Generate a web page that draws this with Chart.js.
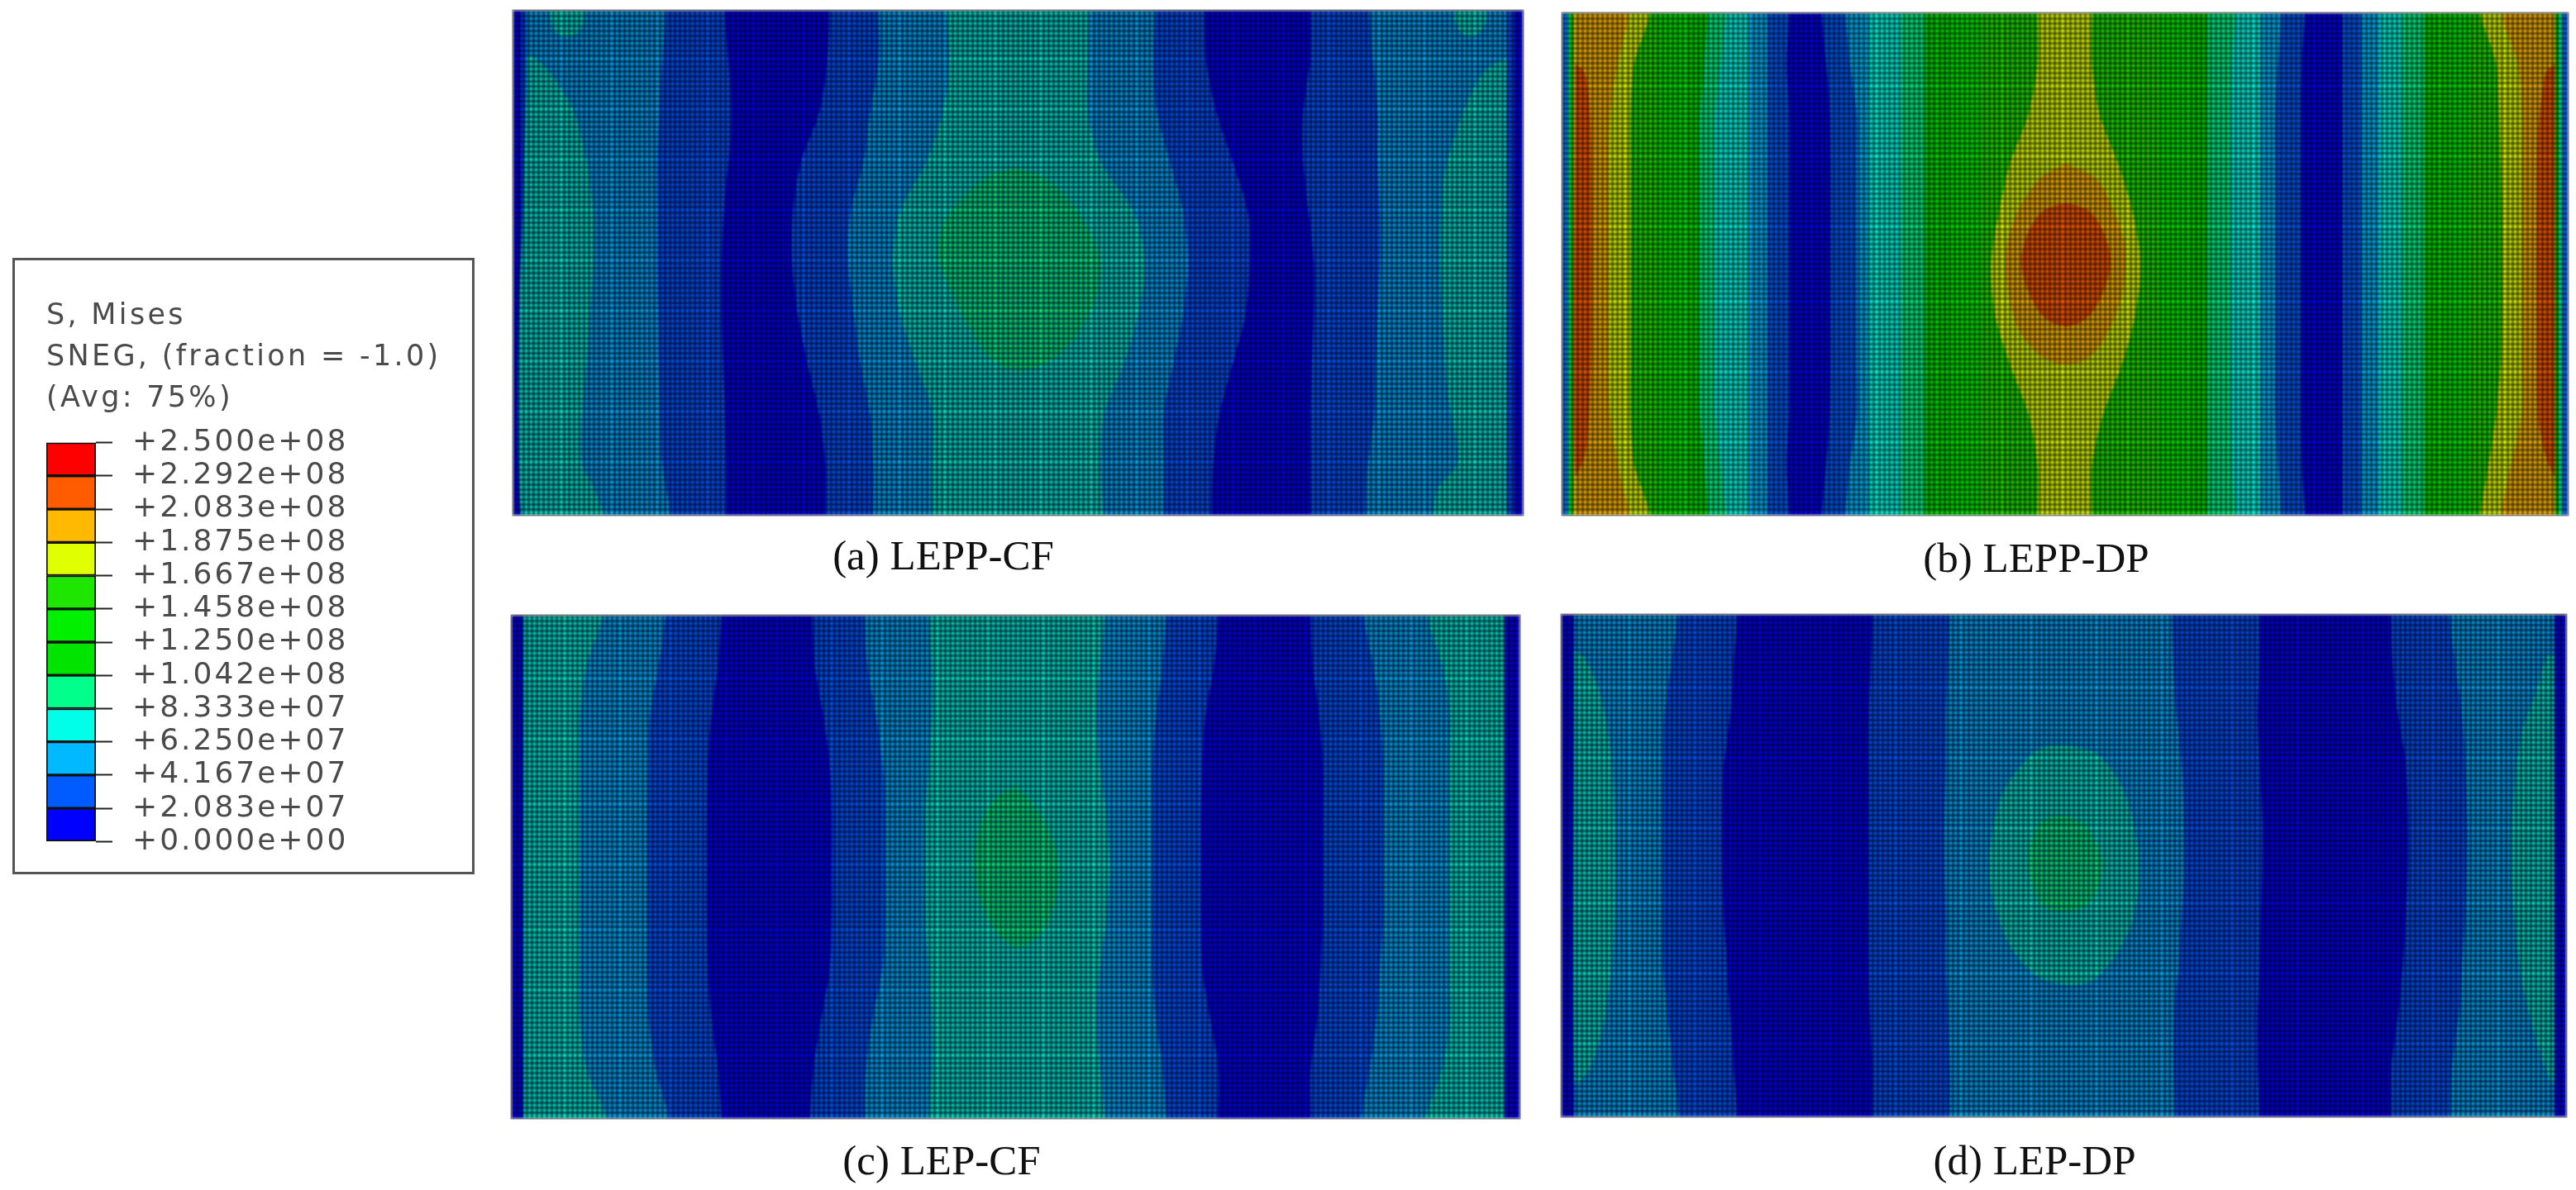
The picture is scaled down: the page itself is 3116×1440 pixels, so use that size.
<!DOCTYPE html>
<html><head><meta charset="utf-8">
<script src="https://cdn.jsdelivr.net/npm/chart.js@4"></script>
<style>
html,body{margin:0;padding:0;background:#fff;width:3116px;height:1440px;overflow:hidden}
canvas{position:absolute;display:block}
.panel{filter:blur(1.1px)}
.frame{position:absolute;box-shadow:0 0 0 1.5px #9a9a9a}
.cap{position:absolute;font-family:"Liberation Serif",serif;font-size:51px;color:#111;white-space:nowrap;transform:translate(-50%,-50%);filter:blur(.5px)}
.box{position:absolute;left:15px;top:312px;width:553px;height:740px;border:3px solid #555;background:#fff}
.lt{position:absolute;left:56px;font-family:"DejaVu Sans",sans-serif;font-size:35px;letter-spacing:3.3px;color:#4a4a4a;white-space:nowrap;transform:translateY(-50%);filter:blur(.6px)}
</style></head><body>
<div class="box"></div>
<div class="lt" style="top:380px">S, Mises</div>
<div class="lt" style="top:430px">SNEG, (fraction = -1.0)</div>
<div class="lt" style="top:480px">(Avg: 75%)</div>
<canvas id="legend" width="520" height="574" style="left:56px;top:490px;filter:blur(.5px)"></canvas>
<div class="frame" style="left:621px;top:13px;width:1221px;height:610px"></div>
<div class="frame" style="left:1890px;top:16px;width:1216px;height:607px"></div>
<div class="frame" style="left:619px;top:745px;width:1219px;height:608px"></div>
<div class="frame" style="left:1889px;top:744px;width:1215px;height:607px"></div>
<canvas id="pa" class="panel" width="1221" height="610" style="left:621px;top:13px"></canvas>
<canvas id="pb" class="panel" width="1216" height="607" style="left:1890px;top:16px"></canvas>
<canvas id="pc" class="panel" width="1219" height="608" style="left:619px;top:745px"></canvas>
<canvas id="pd" class="panel" width="1215" height="607" style="left:1889px;top:744px"></canvas>
<div class="cap" style="left:1141px;top:672px">(a) LEPP-CF</div>
<div class="cap" style="left:2463px;top:675px">(b) LEPP-DP</div>
<div class="cap" style="left:1139px;top:1404px">(c) LEP-CF</div>
<div class="cap" style="left:2461px;top:1404px">(d) LEP-DP</div>
<script>
// Legend
const legendLabels=['+2.500e+08','+2.292e+08','+2.083e+08','+1.875e+08','+1.667e+08','+1.458e+08','+1.250e+08','+1.042e+08','+8.333e+07','+6.250e+07','+4.167e+07','+2.083e+07','+0.000e+00'];
const levelColors=['#0000ff','#005cff','#00b9ff','#00ffe8','#00ff8b','#00e400','#00f000','#1fe600','#e0ff00','#ffb900','#ff5c00','#ff0000'];
const coolPanelColors=['#0000ff','#005cff','#00b4f4','#00f4c8','#00ff80','#00e400','#00f000','#1fe600','#e0ff00','#ffb900','#ff5c00','#ff0000'];
// Contour edges are read at these heights (percent of panel height, top to bottom)
const stationY=[0,10,20,30,40,50,60,70,80,90,100];
// Each band: [contour level to the right of the edge, edge position at each stationY]
const widthA=1531;
const bandsA=[[0,-50],[1,12],[2,20],
[1,231,226,221,218,218,218,219,220,222,226,238],
[0,321,326,331,326,319,316,316,318,321,323,323],
[1,479,476,464,436,424,423,431,446,464,473,473],
[2,554,554,541,531,511,508,516,526,541,546,546],
[3,656,661,651,626,586,576,586,611,636,634,634],
[2,873,871,871,891,941,958,948,926,896,891,894],
[1,974,971,976,996,1016,1023,1016,1001,986,986,986],
[0,1048,1051,1066,1091,1114,1116,1111,1091,1071,1061,1059],
[1,1208,1208,1198,1198,1206,1214,1214,1211,1208,1208,1208],
[2,1298,1304,1311,1311,1314,1314,1311,1308,1306,1296,1292]];
const islandsA=[
[3,[20,8.8],[26,8.8],[56,12.4],[91,19.8],[111,30],[121,40],[121,50],[116,60],[111,70],[104,80],[104,90],[121,94.5],[136,100],[136,110],[20,110]],
[3,[55,1],[62,4],[81,5.3],[100,4],[108,1],[100,-2],[81,-3],[62,-2]],
[3,[1426,1.5],[1435,4],[1451,5.2],[1467,4],[1476,1.5],[1467,-2],[1451,-3],[1435,-2]],
[3,[1506,9.5],[1476,11.5],[1451,16.8],[1426,25.6],[1411,33],[1406,43],[1406,54],[1411,64],[1416,75],[1431,86],[1431,90],[1401,95],[1396,100],[1396,110],[1506,110]],
[4,[766,31.1],[810,33.5],[848,38.5],[877,44.5],[891,50],[883,57],[858,63.5],[820,69],[766,71.4],[725,69],[690,62.5],[662,55],[643,48],[655,41.5],[690,36],[725,32.5]]];
const rimA=[[1,1506],[0,1518]];

const widthB=1346;
const bandsB=[[1,-50],[3,5],[5,10],[8,14],[9,17],
[8,89,74,64,62,62,62,62,62,64,74,89],
[7,117,96,91,91,91,91,91,91,91,96,117],
[6,130],[5,165],
[4,194,190,184,184,184,184,184,184,184,190,194],
[3,219,212,204,204,204,204,204,204,204,212,219],
[2,249],[1,274],
[0,304,300,304,304,304,304,304,304,304,300,304],
[1,347,353,358,359,359,359,359,359,358,353,347],
[2,379,385,394,394,394,394,394,394,394,385,379],
[3,409],[4,454],[5,485],[6,520],[7,560],
[8,636,636,624,599,584,574,579,599,624,636,636],
[7,709,709,719,744,764,774,767,749,724,709,709],
[6,800],[5,835],[4,864],
[3,900,896,894,894,894,894,894,894,894,896,900],
[2,934],
[1,962,958,954,954,954,954,954,954,954,958,962],
[0,994,990,989,989,989,989,989,989,989,990,994],
[1,1044],[2,1069],[3,1094],[4,1124],[5,1154],[6,1190],[7,1215],
[8,1229,1250,1254,1256,1258,1258,1258,1256,1250,1240,1229],
[9,1257,1279,1284,1284,1284,1284,1284,1284,1284,1270,1257]];
const islandsB=[
[9,[674,30],[714,32.9],[739,39.7],[754,47.2],[749,56.3],[729,63.9],[704,68.8],[674,70],[644,68.8],[614,63.9],[597,56.3],[594,47.2],[609,39.7],[639,32.9]],
[10,[674,37.8],[704,39.3],[724,43.5],[734,49.5],[724,55.6],[704,60.5],[674,62.5],[644,60.5],[624,55.6],[614,49.5],[624,43.5],[644,39.3]],
[10,[17,10],[30,12],[37,20],[39,40],[39,60],[36,80],[30,88],[17,92]],
[10,[1329,10],[1316,12],[1306,25],[1304,40],[1304,60],[1306,80],[1316,88],[1329,92]]];
const rimB=[[5,1329],[3,1335],[1,1340]];

const widthC=1530;
const bandsC=[[0,-50],[3,18],
[2,138,113,103,103,103,103,103,103,103,113,143],
[1,233,223,210,208,206,206,206,206,208,218,238],
[0,318,313,303,298,296,296,296,298,303,313,318],
[1,456,460,473,483,486,486,486,483,470,458,453],
[2,536,540,553,563,566,566,566,563,548,538,536],
[3,633,638,638,633,628,628,628,633,638,638,633],
[2,900,893,888,893,903,908,903,893,888,893,900],
[1,993,988,978,973,973,973,973,973,978,988,993],
[0,1073,1066,1053,1048,1046,1046,1046,1048,1060,1073,1073],
[1,1213,1216,1226,1231,1231,1231,1231,1228,1223,1213,1213],
[2,1293,1308,1318,1323,1323,1323,1323,1318,1313,1303,1290],
[3,1390,1413,1425,1423,1423,1423,1423,1423,1425,1413,1388]];
const islandsC=[
[4,[763,33.9],[795,38],[820,44],[831,50],[825,57],[805,63],[768,65.9],[735,63],[712,57],[701,50],[708,43],[730,37]]];
const rimC=[[0,1508]];

const widthD=1524;
const bandsD=[[0,-50],[2,19],
[1,176,166,156,154,153,153,153,154,161,169,178],
[0,266,261,256,246,243,243,246,251,256,261,266],
[1,471,469,466,466,466,466,466,466,468,471,471],
[2,589,586,583,583,581,581,583,583,586,589,589],
[1,926,928,933,941,944,944,941,936,929,928,931],
[0,1059,1059,1056,1059,1063,1063,1061,1059,1056,1056,1059],
[1,1259,1261,1269,1281,1284,1284,1281,1276,1269,1259,1259],
[2,1347,1356,1366,1371,1374,1374,1371,1366,1361,1351,1347]];
const islandsD=[
[3,[19,7],[36,8.8],[56,14.8],[71,23.8],[79,35],[81,50],[79,65],[66,80],[46,89.5],[26,93.3],[19,93.3]],
[3,[1506,8.1],[1496,8.1],[1476,16.3],[1456,23.8],[1443,38.7],[1441,50],[1446,61.2],[1456,72.4],[1476,83.6],[1501,93.3],[1506,93.3]],
[3,[762,25.9],[810,27.5],[845,33],[865,40],[876,50],[868,60],[845,67],[805,73],[762,73.7],[720,72],[680,66],[655,57],[649,49],[660,39],[680,33],[720,27]],
[4,[763,39.8],[795,42],[812,46],[821,50],[812,55],[795,58],[763,59.3],[731,58],[715,54],[708,49],[715,44],[731,41]]];
const rimD=[[0,1506]];

const meshColumns=200, meshRows=100;

function bandRegion(b,w){
  const level=b[0];
  const xs=b.length===2?stationY.map(()=>b[1]):b.slice(1);
  const pts=stationY.map((y,i)=>({x:xs[i],y}));
  return {level,pts:[{x:xs[0],y:-10},...pts,{x:xs[xs.length-1],y:110},{x:w+200,y:110},{x:w+200,y:-10}]};
}
function islandRegion(r){
  const pts=r.slice(1).map(p=>({x:p[0],y:p[1]}));
  pts.push({...pts[0]});
  return {level:r[0],pts};
}
function panel(id,w,bands,islands,rim,mesh,palette){
  const regions=[...bands.map(b=>bandRegion(b,w)),...islands.map(islandRegion),...rim.map(b=>bandRegion(b,w))];
  new Chart(document.getElementById(id),{
    type:'scatter',
    data:{datasets:regions.map((r,i)=>({
      data:r.pts,showLine:true,pointRadius:0,pointHitRadius:0,borderWidth:0,borderColor:'transparent',
      backgroundColor:palette[r.level],fill:'shape',tension:.3,order:-i
    }))},
    options:{responsive:false,animation:false,devicePixelRatio:1,
      events:[],layout:{padding:0},
      plugins:{legend:{display:false},tooltip:{enabled:false},title:{display:false}},
      scales:{
        x:{type:'linear',min:0,max:w,offset:false,
          grid:{color:mesh,lineWidth:3,z:1,drawTicks:false},border:{display:false},
          ticks:{display:false,stepSize:w/meshColumns,maxTicksLimit:1000,autoSkip:false,maxRotation:0},
          afterFit:s=>{s.height=0}},
        y:{type:'linear',reverse:true,min:0,max:100,offset:false,
          grid:{color:mesh,lineWidth:3,z:1,drawTicks:false},border:{display:false},
          ticks:{display:false,stepSize:100/meshRows,maxTicksLimit:1000,autoSkip:false},
          afterFit:s=>{s.width=0}}
      }}
  });
}
panel('pa',widthA,bandsA,islandsA,rimA,'rgba(0,0,30,.62)',coolPanelColors);
panel('pb',widthB,bandsB,islandsB,rimB,'rgba(0,0,0,.52)',levelColors);
panel('pc',widthC,bandsC,islandsC,rimC,'rgba(0,0,30,.6)',coolPanelColors);
panel('pd',widthD,bandsD,islandsD,rimD,'rgba(0,0,30,.62)',coolPanelColors);

// Colour bar: each cell spans two adjacent legend values
const legendValues=legendLabels.map(Number).reverse();
new Chart(document.getElementById('legend'),{
  type:'bar',
  data:{labels:['S'],datasets:levelColors.map((c,i)=>({
    data:[[legendValues[i],legendValues[i+1]]],backgroundColor:c,borderColor:'#111',borderWidth:2,borderSkipped:false,
    grouped:false,barPercentage:1,categoryPercentage:1
  }))},
  plugins:[{id:'spacing',beforeDraw(ch){ch.ctx.letterSpacing='3px';}}],
  options:{responsive:false,animation:false,devicePixelRatio:1,events:[],
    layout:{padding:0},
    plugins:{legend:{display:false},tooltip:{enabled:false}},
    scales:{
      x:{display:false},
      y:{type:'linear',position:'right',min:0,max:2.5e8,
        afterBuildTicks:s=>{s.ticks=legendValues.map(value=>({value}));},
        afterFit:s=>{s.width=460},
        grid:{drawOnChartArea:false,drawTicks:true,tickLength:20,color:'#222',tickColor:'#222',tickWidth:2},
        border:{display:false},
        ticks:{autoSkip:false,padding:24,color:'#4a4a4a',font:{family:'"DejaVu Sans"',size:36},
          callback:v=>legendLabels[legendValues.length-1-legendValues.indexOf(v)]}
      }
    }}
});
</script>
</body></html>
